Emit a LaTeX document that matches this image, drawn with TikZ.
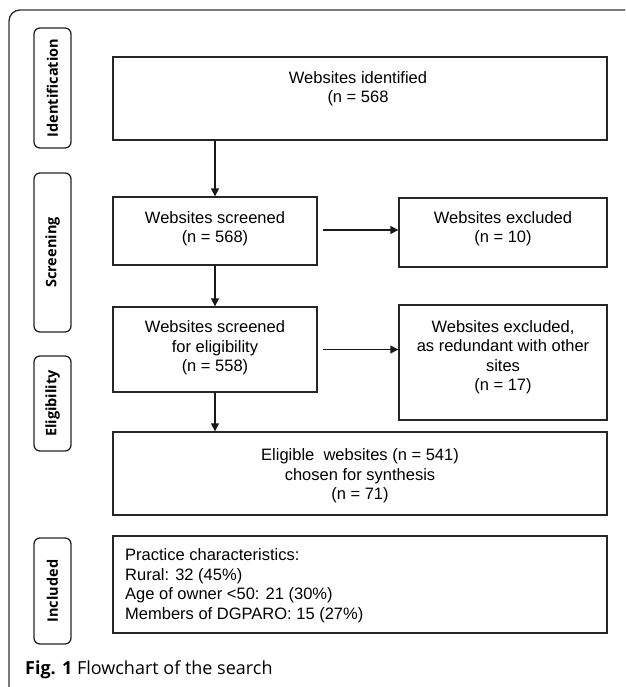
\documentclass[tikz,border=0pt]{standalone}
\usepackage{fontspec}
\setmainfont{Liberation Sans}
\newfontfamily\opensans{Open Sans}
\usetikzlibrary{arrows.meta,calc}
\begin{document}
\begin{tikzpicture}[x=1pt,y=-1pt,
  boxst/.style={draw=black!85, line width=1.4pt, rectangle, inner sep=0pt},
  txt/.style={align=center, inner sep=0pt, font=\fontsize{16.5}{19.5}\selectfont},
  stagebox/.style={draw=black!85, line width=1.3pt, rounded corners=6pt, rectangle, inner sep=0pt, minimum width=37pt},
  stagetxt/.style={rotate=90, inner sep=0pt, font=\opensans\bfseries\fontsize{14.5}{16}\selectfont},
  arr/.style={line width=1.4pt, draw=black!90, -{Triangle[length=8pt,width=8pt]}}]
\useasboundingbox (0,0) rectangle (625,687);
% outer frame
\draw[line width=1.4pt, black!80] (9,687) -- (9,21) arc[start angle=180, end angle=270, radius=11] -- (625,10);
% stage labels
\node[stagebox, minimum height=120pt] (sid) at (52.5,88) {};
\node[stagetxt] (sidt) at (sid.center) {Identification};
\node[stagebox, minimum height=159pt] (ssc) at (52.5,252.5) {};
\node[stagetxt] (ssct) at (ssc.center) {Screening};
\node[stagebox, minimum height=95pt] (sel) at (52.5,403.5) {};
\node[stagetxt] (selt) at (sel.center) {Eligibility};
\node[stagebox, minimum height=106pt] (sin) at (52.5,591) {};
\node[stagetxt] (sint) at (sin.center) {Included};
% boxes
\node[boxst, minimum width=494pt, minimum height=83pt] (b1) at (360,98.5) {};
\node[txt] (t1) at (358,88.5) {Websites identified\\(n = 568};
\node[boxst, minimum width=204pt, minimum height=68pt] (b2) at (215,231) {};
\node[txt] (t2) at (215,228.5) {Websites screened\\(n = 568)};
\node[boxst, minimum width=208pt, minimum height=69pt] (b3) at (503,232.5) {};
\node[txt] (t3) at (503,228.5) {Websites excluded\\(n = 10)};
\node[boxst, minimum width=204pt, minimum height=85pt] (b4) at (215,349.5) {};
\node[txt] (t4) at (215,348) {Websites screened\\for eligibility\\(n = 558)};
\node[boxst, minimum width=208pt, minimum height=115pt] (b5) at (503,362.5) {};
\node[txt] (t5) at (503,357) {Websites excluded,\\as redundant with other\\sites\\(n = 17)};
\node[boxst, minimum width=494pt, minimum height=83pt] (b6) at (360,473.5) {};
\node[txt] (t6) at (360,476) {Eligible\ \ websites (n = 541)\\chosen for synthesis\\(n = 71)};
\node[boxst, minimum width=494pt, minimum height=97pt] (b7) at (360,584.5) {};
\node[txt, align=left, anchor=west] (t7) at (125,585.5) {Practice characteristics:\\Rural: 32 (45\%)\\Age of owner <50: 21 (30\%)\\Members of DGPARO: 15 (27\%)};
% arrows
\draw[arr] (b1.south -| b2.north) -- (b2.north);
\draw[arr] ($(b2.east)+(5,-1)$) -- ($(b2.east -| b3.west)+(0,-1)$);
\draw[arr] (b2.south) -- (b4.north);
\draw[arr] ($(b4.east)+(5,0)$) -- (b4.east -| b5.west);
\draw[arr] (b4.south) -- (b4.south |- b6.north);
% caption
\node[anchor=west, inner sep=0pt, font=\opensans\fontsize{18}{20}\selectfont] (cap) at (25,670) {\textbf{Fig. 1} Flowchart of the search};
\end{tikzpicture}
\end{document}
